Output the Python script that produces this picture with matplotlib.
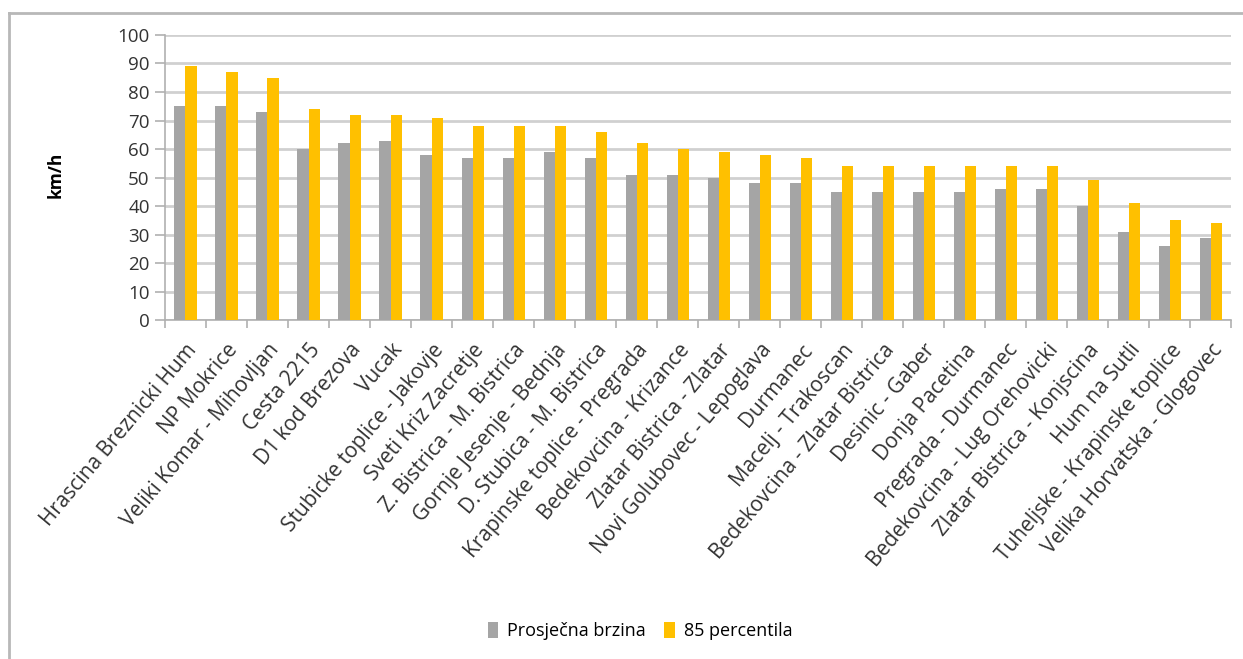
import matplotlib
matplotlib.use("Agg")
import matplotlib.pyplot as plt
import numpy as np

# Data
locations = [
    "Hrascina Breznicki Hum", "NP Mokrice", "Veliki Komar - Mihovljan", "Cesta 2215",
    "D1 kod Brezova", "Vucak", "Stubicke toplice - Jakovje", "Sveti Kriz Zacretje",
    "Z. Bistrica - M. Bistrica", "Gornje Jesenje - Bednja", "D. Stubica - M. Bistrica",
    "Krapinske toplice - Pregrada", "Bedekovcina - Krizance", "Zlatar Bistrica - Zlatar",
    "Novi Golubovec - Lepoglava", "Durmanec", "Macelj - Trakoscan",
    "Bedekovcina - Zlatar Bistrica", "Desinic - Gaber", "Donja Pacetina",
    "Pregrada - Durmanec", "Bedekovcina - Lug Orehovicki", "Zlatar Bistrica - Konjscina",
    "Hum na Sutli", "Tuheljske - Krapinske toplice", "Velika Horvatska - Glogovec",
]
avg_speed = [75, 75, 73, 60, 62, 63, 58, 57, 57, 59, 57, 51, 51,
             50, 48, 48, 45, 45, 45, 45, 46, 46, 40, 31, 26, 29]
p85_speed = [89, 87, 85, 74, 72, 72, 71, 68, 68, 68, 66, 62, 60,
             59, 58, 57, 54, 54, 54, 54, 54, 54, 49, 41, 35, 34]
y_ticks = [0, 10, 20, 30, 40, 50, 60, 70, 80, 90, 100]

plt.rcParams['font.family'] = ['Open Sans', 'DejaVu Sans']

fig = plt.figure(figsize=(12.43, 6.59), dpi=100)
ax = fig.add_axes([0.1327, 0.514, 0.858, 0.433])

x = np.arange(len(locations))
w = 0.27
ax.bar(x - w / 2, avg_speed, w, color='#a5a5a5', label='Prosječna brzina', zorder=3)
ax.bar(x + w / 2, p85_speed, w, color='#ffc000', label='85 percentila', zorder=3)

ax.set_xlim(-0.5, len(locations) - 0.5)
ax.set_ylim(0, 100)
ax.set_yticks(y_ticks)
ax.yaxis.grid(True, color='#d0d0d0', linewidth=2, zorder=0)

# category labels, ticks sit between categories
ax.set_xticks(x)
ax.set_xticklabels(locations, rotation=50, ha='right', rotation_mode='anchor', fontsize=15, color='#333333')
ax.set_xticks(np.arange(-0.5, len(locations)), minor=True)
ax.tick_params(axis='x', which='major', length=0, pad=14)
ax.tick_params(axis='x', which='minor', length=6, color='#b0b0b0', width=1.2)
ax.tick_params(axis='y', length=7, color='#b0b0b0', width=1.2, labelsize=13.5, labelcolor='#333333', pad=4)

for side in ['top', 'right']:
    ax.spines[side].set_visible(False)
ax.spines['left'].set_color('#b0b0b0')
ax.spines['left'].set_linewidth(1.2)
ax.spines['bottom'].set_color('#b0b0b0')
ax.spines['bottom'].set_linewidth(1.2)

fig.text(0.045, 0.735, 'km/h', rotation=90, fontsize=12.5, fontweight='bold', ha='center', va='center')

fig.legend(loc='center', bbox_to_anchor=(0.515, 0.043), ncol=2, frameon=False, fontsize=13,
           handlelength=0.6, handleheight=1.0, handletextpad=0.5, columnspacing=1.0)

# outer chart frame (only top and left edges visible in the crop)
fig.add_artist(plt.Line2D([0.0075, 1.0], [0.981, 0.981], color='#b8b8b8', linewidth=2, transform=fig.transFigure))
fig.add_artist(plt.Line2D([0.0075, 0.0075], [0.0, 0.981], color='#b8b8b8', linewidth=2, transform=fig.transFigure))

fig.savefig('out.png', dpi=100)
